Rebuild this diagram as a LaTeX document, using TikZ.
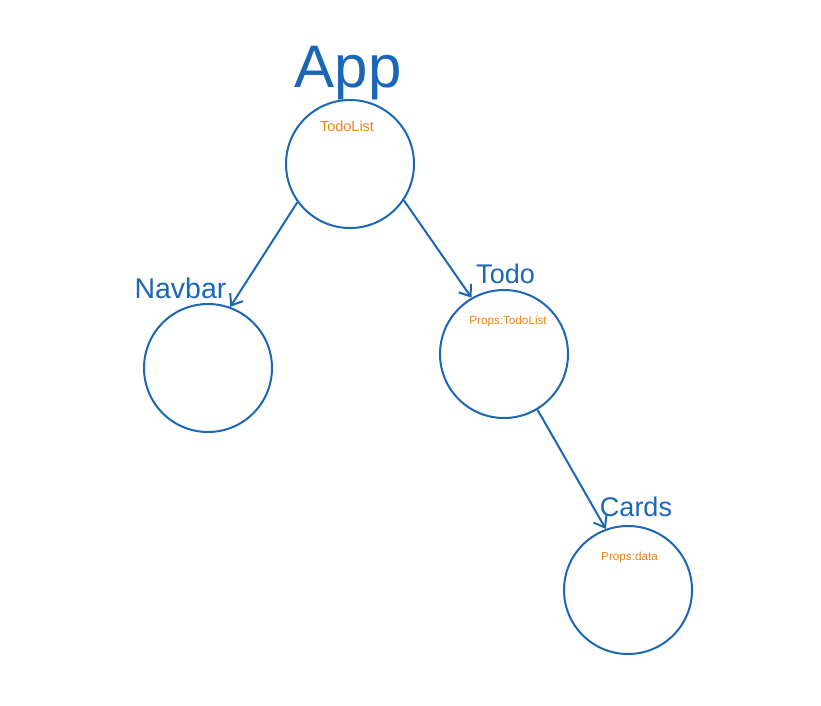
\documentclass[tikz,border=0pt]{standalone}
\usepackage{fontspec}
\setmainfont{Liberation Sans}
\usetikzlibrary{arrows.meta}
\definecolor{penblue}{RGB}{28,102,182}
\definecolor{proporange}{RGB}{236,132,22}
\tikzset{
  comp/.style={circle, draw=penblue, line width=2pt, minimum size=128pt, inner sep=0pt},
  title/.style={text=penblue, inner sep=0pt, anchor=base, font=\fontsize{27}{27}\selectfont},
  props/.style={text=proporange, inner sep=0pt, anchor=base, font=\fontsize{11.7}{12}\selectfont},
  link/.style={draw=penblue, line width=2pt, -{Straight Barb[length=10pt,width=15pt]}}
}

\begin{document}
\begin{tikzpicture}[x=1pt, y=-1pt]
    \useasboundingbox (0,0) rectangle (821,705);

    \node[comp] (app) at (350,164) {};
    \node[comp] (navbar) at (208,368) {};
    \node[comp] (todo) at (504,354) {};
    \node[comp] (cards) at (628,590) {};

    \draw[link] (app.216) -- (navbar.70);
    \draw[link] (app.326) -- (todo.120);
    \draw[link] (todo.301) -- (cards.110);

    \node[title, font=\fontsize{60}{60}\selectfont] (apptitle) at (348,87) {App};
    \node[title, font=\fontsize{28.5}{28.5}\selectfont] (navbartitle) at (180.5,298) {Navbar};
    \node[title] (todotitle) at (505.5,283) {Todo};
    \node[title] (cardstitle) at (636,516) {Cards};

    \node[props, font=\fontsize{14.5}{15}\selectfont] (appprops) at (347,131) {TodoList};
    \node[props] (todoprops) at (508,324) {Props:TodoList};
    \node[props] (cardsprops) at (629.5,560) {Props:data};
\end{tikzpicture}
\end{document}
